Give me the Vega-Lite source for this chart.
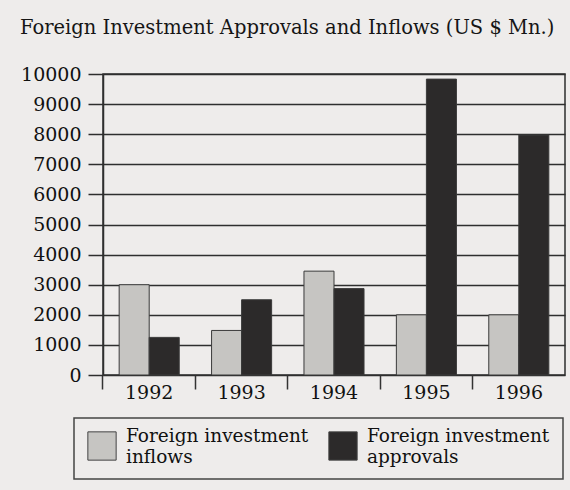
{
  "$schema": "https://vega.github.io/schema/vega-lite/v6.json",
  "autosize": "none",
  "width": 462,
  "height": 301,
  "padding": {"left": 103, "top": 74, "right": 5, "bottom": 115},
  "background": "#eeeceb",
  "title": {
    "text": "Foreign Investment Approvals and Inflows (US $ Mn.)",
    "anchor": "start",
    "frame": "group",
    "orient": "top",
    "baseline": "alphabetic",
    "offset": 12,
    "dx": -83,
    "font": "DejaVu Serif",
    "fontSize": 19.5,
    "fontWeight": "normal",
    "color": "#151515"
  },
  "data": {
    "values": [
      {"year": "1992", "series": "Foreign investment inflows", "value": 3000},
      {"year": "1992", "series": "Foreign investment approvals", "value": 1250},
      {"year": "1993", "series": "Foreign investment inflows", "value": 1480},
      {"year": "1993", "series": "Foreign investment approvals", "value": 2500},
      {"year": "1994", "series": "Foreign investment inflows", "value": 3450},
      {"year": "1994", "series": "Foreign investment approvals", "value": 2870},
      {"year": "1995", "series": "Foreign investment inflows", "value": 2000},
      {"year": "1995", "series": "Foreign investment approvals", "value": 9830},
      {"year": "1996", "series": "Foreign investment inflows", "value": 2000},
      {"year": "1996", "series": "Foreign investment approvals", "value": 7970}
    ]
  },
  "mark": {"type": "bar", "stroke": "#3a3a3a", "strokeWidth": 1},
  "encoding": {
    "x": {
      "field": "year",
      "type": "nominal",
      "scale": {"paddingInner": 0.35, "paddingOuter": 0.175},
      "axis": {
        "title": null,
        "labelAngle": 0,
        "labelFont": "DejaVu Serif",
        "labelFontSize": 19,
        "labelColor": "#111",
        "ticks": true,
        "tickSize": 14,
        "tickColor": "#333",
        "tickWidth": 1.5,
        "bandPosition": -0.27,
        "labelPadding": -6,
        "domain": false
      }
    },
    "xOffset": {
      "field": "series",
      "type": "nominal",
      "sort": ["Foreign investment inflows", "Foreign investment approvals"]
    },
    "y": {
      "field": "value",
      "type": "quantitative",
      "scale": {"domain": [0, 10000], "nice": false},
      "axis": {
        "title": null,
        "values": [0, 1000, 2000, 3000, 4000, 5000, 6000, 7000, 8000, 9000, 10000],
        "format": "d",
        "grid": true,
        "gridColor": "#2e2e2e",
        "gridWidth": 1.5,
        "gridOpacity": 1,
        "tickSize": 15,
        "tickColor": "#2e2e2e",
        "tickWidth": 1.5,
        "domain": true,
        "domainColor": "#2e2e2e",
        "domainWidth": 1.5,
        "labelFont": "DejaVu Serif",
        "labelFontSize": 19,
        "labelColor": "#111",
        "labelPadding": 7
      }
    },
    "color": {
      "field": "series",
      "type": "nominal",
      "scale": {
        "domain": ["Foreign investment inflows", "Foreign investment approvals"],
        "range": ["#c6c5c2", "#2c2a2a"]
      },
      "legend": {
        "title": null,
        "orient": "none",
        "legendX": -29,
        "legendY": 344,
        "direction": "horizontal",
        "columns": 2,
        "symbolType": "square",
        "symbolSize": 800,
        "symbolStrokeColor": "#444",
        "symbolStrokeWidth": 1,
        "labelFont": "DejaVu Serif",
        "labelFontSize": 18.5,
        "labelColor": "#111",
        "labelLimit": 300,
        "labelOffset": 9,
        "labelBaseline": "bottom",
        "columnPadding": 17,
        "padding": 13,
        "strokeColor": "#444",
        "labelExpr": "[slice(datum.label, 0, 18), slice(datum.label, 19)]"
      }
    }
  },
  "config": {
    "view": {"stroke": "#2e2e2e", "strokeWidth": 1.5},
    "legend": {"strokeWidth": 1.5}
  }
}
